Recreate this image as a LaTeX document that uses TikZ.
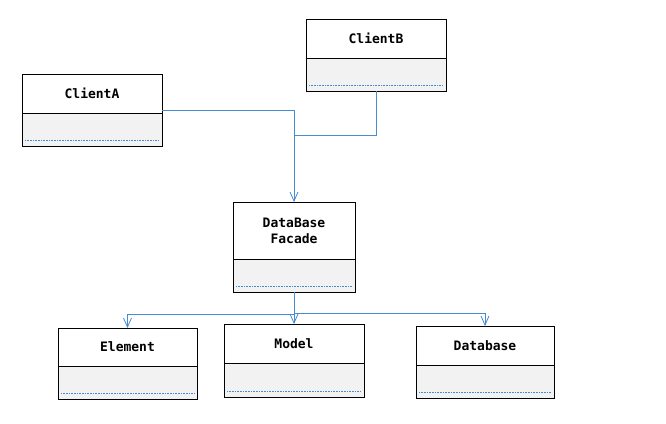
\documentclass[tikz,border=0pt]{standalone}
\usepackage{fontspec}
\setmonofont{DejaVu Sans Mono}
\usetikzlibrary{arrows.meta}
\definecolor{linkblue}{RGB}{70,140,210}
\definecolor{compgray}{RGB}{242,242,242}
\tikzset{
  header/.style={draw=black, line width=0.9pt, fill=white, inner sep=0pt, outer sep=0pt,
    font=\ttfamily\bfseries\fontsize{13}{16}\selectfont, align=center},
  compart/.style={draw=black, line width=0.9pt, fill=compgray, inner sep=0pt, outer sep=0pt,
    path picture={\draw[linkblue, densely dotted, line width=0.6pt]
      ([xshift=3pt,yshift=5.5pt]path picture bounding box.south west) --
      ([xshift=-3pt,yshift=5.5pt]path picture bounding box.south east);}},
  link/.style={draw=linkblue, line width=0.9pt},
  arr/.style={link, -{Straight Barb[length=9pt,width=8pt,line width=0.8pt]}}
}
\begin{document}
\begin{tikzpicture}[x=1pt,y=-1pt]
\useasboundingbox (0,0) rectangle (666,423);
% ClientA
\node[header, minimum width=140pt, minimum height=39pt] (Ah) at (92,93.5) {ClientA};
\node[compart, minimum width=140pt, minimum height=33pt, anchor=north] (Ab) at (Ah.south) {};
% ClientB
\node[header, minimum width=140pt, minimum height=39pt] (Bh) at (376,38.5) {ClientB};
\node[compart, minimum width=140pt, minimum height=33pt, anchor=north] (Bb) at (Bh.south) {};
% Facade
\node[header, minimum width=122pt, minimum height=57pt] (Fh) at (294,230.5) {DataBase\\Facade};
\node[compart, minimum width=122pt, minimum height=33pt, anchor=north] (Fb) at (Fh.south) {};
% Element
\node[header, minimum width=139pt, minimum height=38pt] (Eh) at (127.5,347) {Element};
\node[compart, minimum width=139pt, minimum height=33pt, anchor=north] (Eb) at (Eh.south) {};
% Model
\node[header, minimum width=140pt, minimum height=39pt] (Mh) at (294,343.5) {Model};
\node[compart, minimum width=140pt, minimum height=34pt, anchor=north] (Mb) at (Mh.south) {};
% Database
\node[header, minimum width=138pt, minimum height=39pt] (Dh) at (485,345.5) {Database};
\node[compart, minimum width=138pt, minimum height=33pt, anchor=north] (Db) at (Dh.south) {};
% connectors
\coordinate (jB) at (294,135);
\coordinate (sL) at (294,314);
\coordinate (sR) at (294,313);
\draw[arr] ([yshift=3pt]Ah.south east) -| (Fh.north);
\draw[link] (Bb.south) |- (jB);
\draw[arr] (Fb.south) -- (Mh.north);
\draw[link] (Fb.south) -- (sL);
\draw[arr] (sL) -| (Eh.north);
\draw[arr] (sR) -| (Dh.north);
\end{tikzpicture}
\end{document}
